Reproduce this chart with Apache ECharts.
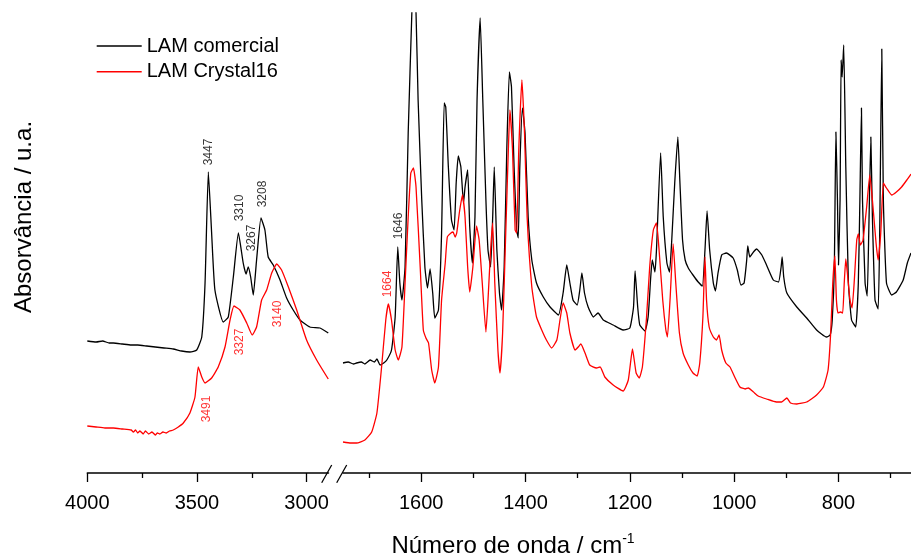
<!DOCTYPE html>
<html>
<head>
<meta charset="utf-8">
<script src="https://cdn.jsdelivr.net/npm/echarts@6/dist/echarts.min.js"></script>
<style>
html,body{margin:0;padding:0;background:#fff;}
#chart{width:911px;height:557px;}
</style>
</head>
<body>
<div id="chart"></div>
<script>
// ---- Data (wavenumber cm^-1, absorbance a.u.) ----
const seriesNames = ['LAM comercial', 'LAM Crystal16'];

const blackLeft = [[4000,1.32],[3960,1.31],[3930,1.32],[3900,1.30],[3881,1.30],[3840,1.29],[3800,1.28],[3770,1.28],[3729,1.27],[3690,1.26],[3650,1.25],[3608,1.24],[3570,1.22],[3532,1.21],[3501,1.23],[3478,1.36],[3463,1.90],[3448,3.01],[3433,2.40],[3418,1.83],[3380,1.51],[3357,1.56],[3334,1.96],[3311,2.40],[3289,2.10],[3276,1.99],[3266,2.06],[3255,1.96],[3243,1.78],[3228,2.13],[3208,2.55],[3190,2.43],[3175,2.16],[3152,2.08],[3121,1.93],[3091,1.75],[3061,1.63],[3030,1.53],[2985,1.46],[2939,1.45],[2901,1.40]];

const redLeft = [[4000,0.47],[3960,0.46],[3920,0.45],[3881,0.45],[3840,0.44],[3800,0.43],[3790,0.41],[3780,0.43],[3770,0.40],[3760,0.42],[3745,0.39],[3735,0.42],[3720,0.39],[3705,0.41],[3690,0.38],[3680,0.40],[3669,0.39],[3655,0.41],[3640,0.40],[3625,0.42],[3608,0.43],[3585,0.46],[3562,0.50],[3532,0.60],[3509,0.76],[3494,1.06],[3478,0.96],[3463,0.90],[3433,0.95],[3403,1.06],[3372,1.26],[3349,1.53],[3331,1.67],[3304,1.63],[3273,1.50],[3248,1.38],[3228,1.46],[3205,1.73],[3182,1.83],[3159,2.00],[3136,2.09],[3114,2.03],[3083,1.86],[3045,1.63],[3000,1.33],[2954,1.13],[2901,0.94]];

const blackRight = [[1750,1.10],[1740,1.11],[1730,1.09],[1724,1.10],[1715,1.11],[1708,1.09],[1698,1.13],[1690,1.11],[1685,1.14],[1679,1.08],[1672,1.10],[1666,1.13],[1657,1.23],[1650,1.56],[1645,2.26],[1641,1.90],[1637,1.73],[1631,2.06],[1625,3.40],[1618,4.60],[1615,5.0],[1610,4.60],[1606,3.73],[1599,2.73],[1593,2.06],[1588,1.85],[1583,2.04],[1578,1.80],[1574,1.55],[1567,1.63],[1561,2.40],[1556,3.70],[1553,3.66],[1548,3.06],[1542,2.53],[1537,2.43],[1533,2.90],[1529,3.17],[1524,3.06],[1519,2.70],[1516,2.86],[1511,3.03],[1507,2.46],[1502,2.10],[1497,2.56],[1493,3.73],[1487,4.55],[1482,3.73],[1476,2.73],[1472,2.23],[1467,2.06],[1463,2.56],[1460,3.06],[1455,2.23],[1450,1.80],[1446,1.63],[1441,2.06],[1436,3.23],[1431,4.01],[1427,3.86],[1422,3.06],[1417,2.43],[1414,2.35],[1411,3.06],[1406,3.65],[1401,3.40],[1395,2.56],[1388,2.13],[1379,1.90],[1366,1.76],[1353,1.66],[1337,1.58],[1328,1.80],[1321,2.08],[1315,1.90],[1309,1.73],[1301,1.68],[1296,1.83],[1292,2.00],[1287,1.80],[1280,1.66],[1270,1.56],[1261,1.60],[1251,1.53],[1232,1.48],[1213,1.43],[1200,1.45],[1193,1.66],[1190,2.02],[1185,1.66],[1181,1.48],[1171,1.42],[1165,1.56],[1160,1.96],[1157,2.13],[1152,2.01],[1149,2.23],[1141,3.20],[1136,2.56],[1129,2.10],[1124,2.01],[1120,2.30],[1114,2.90],[1108,3.36],[1104,2.90],[1099,2.33],[1094,2.13],[1088,2.05],[1079,1.98],[1069,1.91],[1061,1.87],[1056,2.23],[1052,2.62],[1047,2.23],[1040,1.90],[1036,1.82],[1031,2.00],[1024,2.18],[1015,2.20],[1002,2.15],[994,2.03],[987,1.88],[981,1.90],[976,2.13],[974,2.27],[970,2.16],[963,2.21],[957,2.24],[947,2.18],[938,2.08],[925,1.93],[915,1.91],[910,2.06],[908,2.16],[905,1.96],[899,1.80],[880,1.66],[861,1.55],[842,1.43],[823,1.36],[816,1.38],[812,1.53],[808,2.06],[805,3.41],[802,2.73],[800,2.08],[797,2.73],[795,4.13],[793,3.96],[790,4.28],[786,3.06],[781,1.90],[775,1.53],[767,1.46],[762,1.90],[759,2.73],[756,3.65],[754,2.73],[749,1.90],[745,1.77],[742,2.40],[738,3.36],[735,2.56],[730,1.73],[724,1.64],[721,2.40],[717,4.24],[714,2.73],[708,1.90],[698,1.78],[689,1.81],[676,1.93],[668,2.10],[661,2.20]];

const redRight = [[1750,0.31],[1735,0.30],[1724,0.30],[1708,0.33],[1695,0.41],[1685,0.60],[1676,1.06],[1668,1.53],[1663,1.69],[1657,1.53],[1650,1.23],[1644,1.13],[1637,1.26],[1631,1.90],[1625,2.56],[1620,3.00],[1615,3.05],[1610,2.86],[1602,2.06],[1596,1.43],[1591,1.35],[1586,1.30],[1580,1.03],[1574,0.90],[1567,1.06],[1561,1.73],[1554,2.10],[1550,2.36],[1543,2.40],[1539,2.41],[1535,2.36],[1532,2.40],[1527,2.60],[1521,2.78],[1516,2.56],[1511,2.06],[1507,1.81],[1501,2.06],[1494,2.47],[1489,2.33],[1483,1.90],[1476,1.41],[1472,1.73],[1467,2.23],[1463,2.50],[1459,1.90],[1453,1.23],[1449,1.00],[1444,1.40],[1438,2.40],[1433,3.23],[1430,3.63],[1425,3.23],[1420,2.43],[1417,2.40],[1413,3.23],[1407,3.93],[1402,3.40],[1397,2.56],[1388,1.86],[1379,1.56],[1369,1.43],[1360,1.33],[1350,1.25],[1340,1.33],[1334,1.53],[1328,1.70],[1321,1.60],[1315,1.40],[1305,1.23],[1299,1.26],[1294,1.29],[1286,1.20],[1277,1.08],[1264,1.05],[1257,1.06],[1248,0.96],[1232,0.88],[1213,0.82],[1203,0.93],[1195,1.24],[1188,1.00],[1182,0.95],[1176,1.06],[1168,1.56],[1162,2.06],[1155,2.43],[1149,2.50],[1144,2.23],[1137,1.73],[1131,1.43],[1128,1.36],[1123,1.73],[1117,2.29],[1112,1.90],[1105,1.40],[1098,1.20],[1088,1.08],[1079,1.00],[1071,0.97],[1066,1.10],[1060,1.56],[1056,2.16],[1053,1.73],[1048,1.46],[1040,1.36],[1034,1.33],[1029,1.38],[1024,1.23],[1016,1.10],[1008,1.06],[999,0.96],[989,0.86],[979,0.84],[973,0.85],[963,0.81],[954,0.77],[938,0.74],[919,0.71],[909,0.71],[899,0.75],[892,0.70],[880,0.69],[861,0.71],[842,0.78],[829,0.86],[820,1.03],[815,1.40],[811,1.90],[807,2.17],[804,1.73],[801,1.60],[796,1.61],[792,1.60],[789,1.90],[786,2.14],[783,2.00],[778,1.73],[774,1.65],[770,1.90],[765,2.33],[762,2.39],[758,2.28],[753,2.33],[746,2.66],[740,2.98],[735,2.73],[728,2.30],[724,2.13],[719,2.40],[714,2.90],[708,2.85],[698,2.78],[689,2.81],[679,2.86],[669,2.93],[661,2.99]];

// Peak annotations: [wavenumber position, absorbance position, text, colour index (0 black, 1 red)]
const annLeft = [[3445,3.21,'3447',0],[3307,2.65,'3310',0],[3250,2.35,'3267',0],[3200,2.79,'3208',0],[3304,1.31,'3327',1],[3134,1.59,'3140',1],[3456,0.64,'3491',1]];
const annRight = [[1644,2.47,'1646',0],[1664,1.89,'1664',1]];

// Axis ticks
const leftLabels = [4000, 3500, 3000];
const leftMinor = [3750, 3250];
const rightLabels = [1600, 1400, 1200, 1000, 800];
const rightMinor = [1700, 1500, 1300, 1100, 900, 700];
const leftRange = [2900, 4000];
const rightRange = [661, 1750];
const yRange = [0, 4.6];

const colors = ['#000000', '#ff0000'];
const FONT = 'Liberation Sans, Arial, Helvetica, sans-serif';

function labelX(grid, range, labels) {
  return {
    type: 'value', gridIndex: grid, min: range[0], max: range[1], inverse: true, position: 'bottom',
    axisLine: {show: true, onZero: false, lineStyle: {color: '#000', width: 1.5}},
    axisTick: {show: false},
    axisLabel: {show: true, margin: 20, color: '#000', fontSize: 20, fontFamily: FONT,
                customValues: labels, formatter: v => String(v)},
    splitLine: {show: false}
  };
}
function tickX(grid, range, ticks, len) {
  return {
    type: 'value', gridIndex: grid, min: range[0], max: range[1], inverse: true, position: 'bottom',
    axisLine: {show: false, onZero: false},
    axisTick: {show: true, inside: false, length: len, lineStyle: {color: '#000', width: 1.3}, customValues: ticks},
    axisLabel: {show: false},
    splitLine: {show: false}
  };
}
function yAx(grid) {
  return {type: 'value', gridIndex: grid, min: yRange[0], max: yRange[1], show: false};
}
function lineSeries(name, xi, yi, data, color) {
  return {
    name: name, type: 'line', xAxisIndex: xi, yAxisIndex: yi, data: data,
    symbol: 'none', clip: true, silent: true, smooth: 0.15,
    lineStyle: {color: color, width: 1.3}, itemStyle: {color: color}
  };
}
function annSeries(xi, yi, arr) {
  return {
    type: 'scatter', xAxisIndex: xi, yAxisIndex: yi, silent: true,
    symbol: 'circle', symbolSize: 0, itemStyle: {color: 'rgba(0,0,0,0)'},
    data: arr.map(a => ({
      value: [a[0], a[1]],
      label: {show: true, formatter: a[2], color: colors[a[3]], rotate: 90, position: 'inside',
              fontSize: 12, fontFamily: FONT}
    }))
  };
}

const chart = echarts.init(document.getElementById('chart'), null, {renderer: 'canvas'});
chart.setOption({
  animation: false,
  backgroundColor: '#fff',
  grid: [
    {left: 87.3, top: 13, width: 241.2, height: 460},
    {left: 343, top: 13, width: 568, height: 460}
  ],
  xAxis: [
    labelX(0, leftRange, leftLabels),
    labelX(1, rightRange, rightLabels),
    tickX(0, leftRange, leftLabels, 9),
    tickX(1, rightRange, rightLabels, 9),
    tickX(0, leftRange, leftMinor, 5),
    tickX(1, rightRange, rightMinor, 5)
  ],
  yAxis: [yAx(0), yAx(1)],
  legend: {
    data: seriesNames, orient: 'vertical', left: 96.7, top: 36, padding: 0,
    icon: 'rect', itemWidth: 45, itemHeight: 1.5, itemGap: 5.7,
    textStyle: {fontSize: 20, color: '#000', fontFamily: FONT, lineHeight: 20},
    selectedMode: false
  },
  series: [
    lineSeries(seriesNames[0], 0, 0, blackLeft, colors[0]),
    lineSeries(seriesNames[0], 1, 1, blackRight, colors[0]),
    lineSeries(seriesNames[1], 0, 0, redLeft, colors[1]),
    lineSeries(seriesNames[1], 1, 1, redRight, colors[1]),
    annSeries(0, 0, annLeft),
    annSeries(1, 1, annRight)
  ],
  graphic: [
    {type: 'line', shape: {x1: 321.7, y1: 482.7, x2: 331.7, y2: 465}, style: {stroke: '#000', lineWidth: 1.3}},
    {type: 'line', shape: {x1: 336.7, y1: 482.7, x2: 346.7, y2: 465}, style: {stroke: '#000', lineWidth: 1.3}},
    {type: 'text', x: 24, y: 217, rotation: Math.PI / 2,
     style: {text: 'Absorvância / u.a.', fontSize: 24, fontFamily: FONT, fill: '#000',
             textAlign: 'center', textVerticalAlign: 'middle'}},
    {type: 'text', x: 513, y: 546,
     style: {text: '{a|Número de onda / cm}{b|-1}', fontFamily: FONT, fill: '#000',
             textAlign: 'center', textVerticalAlign: 'middle',
             rich: {a: {fontSize: 24, lineHeight: 28, fontFamily: FONT, fill: '#000'},
                    b: {fontSize: 14, lineHeight: 14, verticalAlign: 'top', fontFamily: FONT, fill: '#000'}}}}
  ]
});
</script>
</body>
</html>
